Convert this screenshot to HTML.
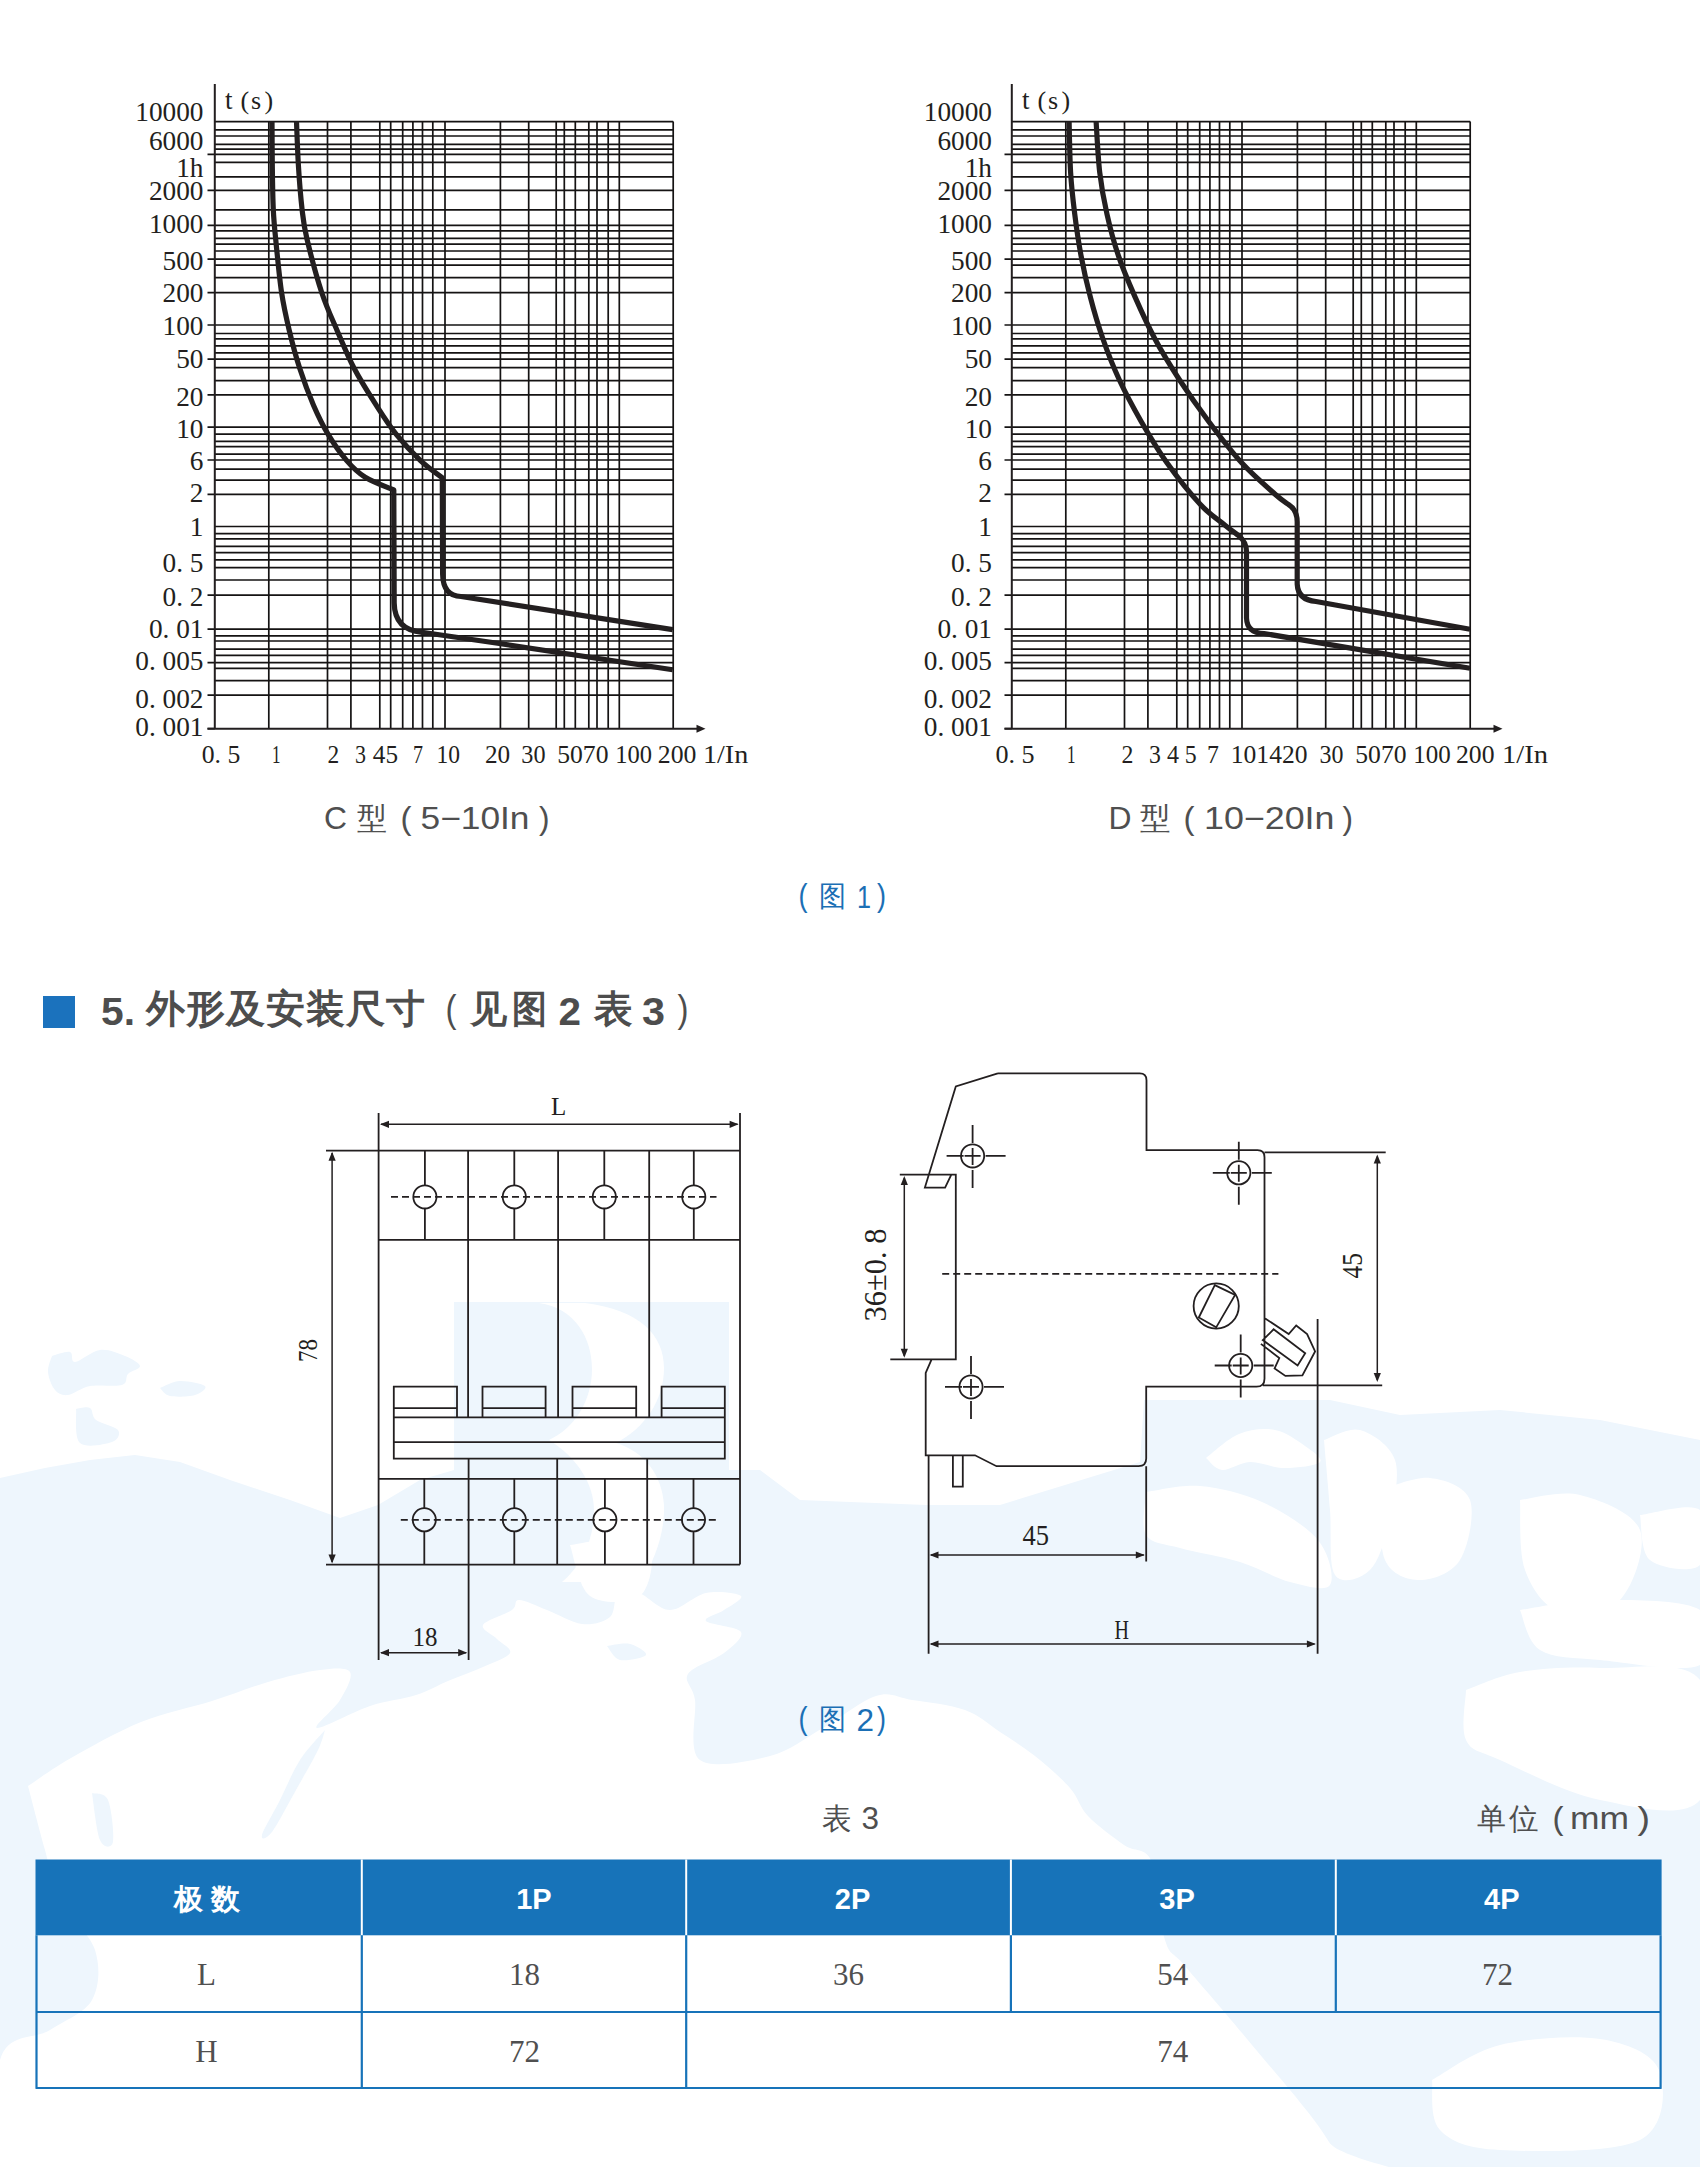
<!DOCTYPE html><html><head><meta charset="utf-8"><title>page</title><style>html,body{margin:0;padding:0;background:#fff;width:1700px;height:2167px;overflow:hidden;}svg{display:block;font-family:"Liberation Sans",sans-serif;}</style></head><body>
<svg width="1700" height="2167" viewBox="0 0 1700 2167">
<rect width="1700" height="2167" fill="#ffffff"/>
<path d="M0 1478 L45 1468 L90 1460 L135 1455 L180 1462 L230 1480 L290 1500 L340 1518 L378 1505 L420 1480 L454 1470 L760 1470 L800 1500 L926 1505 L1000 1505 L1140 1462 L1144 1400 L1330 1400 L1400 1415 L1500 1410 L1600 1420 L1700 1440 L1700 2167 L0 2167Z" fill="#eef6fd"/>
<path d="M454 1302 L729 1302 L729 1590 L454 1590Z" fill="#eef6fd"/>
<path d="M52 1356 C55 1355.3 66.2 1351 70 1352 C73.8 1353 70 1362.3 75 1362 C80 1361.7 91.7 1351 100 1350 C108.3 1349 118.3 1353.3 125 1356 C131.7 1358.7 139.5 1363 140 1366 C140.5 1369 131 1370.8 128 1374 C125 1377.2 128.3 1383 122 1385 C115.7 1387 99 1384.3 90 1386 C81 1387.7 73.8 1394.3 68 1395 C62.2 1395.7 58.3 1393.8 55 1390 C51.7 1386.2 48.5 1377.7 48 1372 C47.5 1366.3 51.3 1358.7 52 1356Z" fill="#eef6fd"/>
<path d="M160 1388 C163.3 1386.8 172.5 1381.3 180 1381 C187.5 1380.7 202.5 1383.7 205 1386 C207.5 1388.3 200.8 1393.3 195 1395 C189.2 1396.7 175.8 1397.2 170 1396 C164.2 1394.8 161.7 1389.3 160 1388Z" fill="#eef6fd"/>
<path d="M76 1409 C78.3 1408.8 86.7 1406.2 90 1408 C93.3 1409.8 91.3 1416.3 96 1420 C100.7 1423.7 115.3 1426.3 118 1430 C120.7 1433.7 118.3 1439.8 112 1442 C105.7 1444.2 86 1448.5 80 1443 C74 1437.5 76.7 1414.7 76 1409Z" fill="#eef6fd"/>
<path d="M28 1786 C35.2 1781.3 52.2 1768.7 71 1758 C89.8 1747.3 117.5 1731.5 141 1722 C164.5 1712.5 190.8 1707.7 212 1701 C233.2 1694.3 250 1687.2 268 1682 C286 1676.8 306.3 1671.7 320 1670 C333.7 1668.3 346.7 1667 350 1672 C353.3 1677 345.5 1690.7 340 1700 C334.5 1709.3 312 1727 317 1728 C322 1729 353.5 1711.5 370 1706 C386.5 1700.5 403 1699.2 416 1695 C429 1690.8 436.8 1685.7 448 1681 C459.2 1676.3 472.7 1671.7 483 1667 C493.3 1662.3 507.7 1657.7 510 1653 C512.3 1648.3 501.5 1643.7 497 1639 C492.5 1634.3 480.5 1629.8 483 1625 C485.5 1620.2 506 1614.2 512 1610 C518 1605.8 513.2 1600 519 1600 C524.8 1600 536.5 1606 547 1610 C557.5 1614 571.5 1622.8 582 1624 C592.5 1625.2 604 1622.2 610 1617 C616 1611.8 613.2 1597 618 1593 C622.8 1589 630.3 1590.2 639 1593 C647.7 1595.8 658.8 1610 670 1610 C681.2 1610 694.2 1595.3 706 1593 C717.8 1590.7 738 1593.2 741 1596 C744 1598.8 729.8 1605.8 724 1610 C718.2 1614.2 703.2 1617.3 706 1621 C708.8 1624.7 738 1626.7 741 1632 C744 1637.3 732.8 1646 724 1653 C715.2 1660 692.8 1666.2 688 1674 C683.2 1681.8 693 1685.7 695 1700 C697 1714.3 687.5 1750.7 700 1760 C712.5 1769.3 749.5 1761.3 770 1756 C790.5 1750.7 805.3 1738 823 1728 C840.7 1718 861.2 1700.7 876 1696 C890.8 1691.3 897.2 1697.7 912 1700 C926.8 1702.3 950.3 1704.7 965 1710 C979.7 1715.3 988.3 1724.3 1000 1732 C1011.7 1739.7 1023.3 1746.7 1035 1756 C1046.7 1765.3 1061.2 1778 1070 1788 C1078.8 1798 1079 1806.5 1088 1816 C1097 1825.5 1113.3 1837.3 1124 1845 C1134.7 1852.7 1145.2 1846.2 1152 1862 C1158.8 1877.8 1159.5 1922.7 1165 1940 C1170.5 1957.3 1171.3 1949.5 1185 1966 C1198.7 1982.5 1223 2009.7 1247 2039 C1271 2068.3 1313.5 2115.2 1329 2142 C1344.5 2168.8 1561.5 2190.3 1340 2200 C1118.5 2209.7 223.3 2223.3 0 2200 C-223.3 2176.7 -8.3 2088.3 0 2060 C8.3 2031.7 34.7 2040 50 2030 C65.3 2020 84.5 2013.3 92 2000 C99.5 1986.7 100.3 1966.7 95 1950 C89.7 1933.3 68.3 1916.7 60 1900 C51.7 1883.3 50.3 1869 45 1850 C39.7 1831 30.8 1796.7 28 1786Z" fill="#ffffff"/>
<path d="M570 1545 C576.7 1544.2 596.7 1539.2 610 1540 C623.3 1540.8 645 1540.7 650 1550 C655 1559.3 650 1588.3 640 1596 C630 1603.7 601.7 1604.5 590 1596 C578.3 1587.5 573.3 1553.5 570 1545Z" fill="#ffffff"/>
<path d="M325 1730 C320.8 1735 307.5 1748.3 300 1760 C292.5 1771.7 286.3 1787.5 280 1800 C273.7 1812.5 263.3 1829.7 262 1835 C260.7 1840.3 266.3 1839.5 272 1832 C277.7 1824.5 288.3 1803.7 296 1790 C303.7 1776.3 313.2 1760 318 1750 C322.8 1740 323.8 1733.3 325 1730Z" fill="#eef6fd"/>
<path d="M92 1793 C94.7 1794.2 104.5 1791.8 108 1800 C111.5 1808.2 114.3 1835.3 113 1842 C111.7 1848.7 103.5 1848.2 100 1840 C96.5 1831.8 93.3 1800.8 92 1793Z" fill="#eef6fd"/>
<path d="M607 1646 C610.8 1645.7 623.5 1642.5 630 1644 C636.5 1645.5 647.7 1652.3 646 1655 C644.3 1657.7 626.5 1661.5 620 1660 C613.5 1658.5 609.2 1648.3 607 1646Z" fill="#eef6fd"/>
<path d="M1146 1492 C1155 1491 1180.7 1484.3 1200 1486 C1219.3 1487.7 1242.3 1493 1262 1502 C1281.7 1511 1306.7 1526.2 1318 1540 C1329.3 1553.8 1334.7 1578 1330 1585 C1325.3 1592 1305 1585.8 1290 1582 C1275 1578.2 1258.3 1567.7 1240 1562 C1221.7 1556.3 1195.7 1552.5 1180 1548 C1164.3 1543.5 1151.7 1544.3 1146 1535 C1140.3 1525.7 1146 1499.2 1146 1492Z" fill="#ffffff"/>
<path d="M1206 1458 C1211.5 1454 1227.5 1438.7 1239 1434 C1250.5 1429.3 1264 1428 1275 1430 C1286 1432 1297.5 1440.7 1305 1446 C1312.5 1451.3 1323.3 1458.3 1320 1462 C1316.7 1465.7 1296.7 1468 1285 1468 C1273.3 1468 1260.5 1461.7 1250 1462 C1239.5 1462.3 1229.3 1470.7 1222 1470 C1214.7 1469.3 1208.7 1460 1206 1458Z" fill="#ffffff"/>
<path d="M1324 1440 C1330 1438.3 1348.2 1426.7 1360 1430 C1371.8 1433.3 1390 1445 1395 1460 C1400 1475 1394.2 1501.7 1390 1520 C1385.8 1538.3 1379.2 1560.8 1370 1570 C1360.8 1579.2 1341.7 1585 1335 1575 C1328.3 1565 1331.8 1532.5 1330 1510 C1328.2 1487.5 1325 1451.7 1324 1440Z" fill="#ffffff"/>
<path d="M1380 1490 C1388.3 1488 1415 1476.3 1430 1478 C1445 1479.7 1465 1486.3 1470 1500 C1475 1513.7 1468.3 1546.7 1460 1560 C1451.7 1573.3 1432.5 1580 1420 1580 C1407.5 1580 1391.7 1575 1385 1560 C1378.3 1545 1380.8 1501.7 1380 1490Z" fill="#ffffff"/>
<path d="M1520 1500 C1530 1499.2 1560 1490 1580 1495 C1600 1500 1633.3 1512.5 1640 1530 C1646.7 1547.5 1633.3 1586.3 1620 1600 C1606.7 1613.7 1575.8 1617 1560 1612 C1544.2 1607 1531.7 1588.7 1525 1570 C1518.3 1551.3 1520.8 1511.7 1520 1500Z" fill="#ffffff"/>
<path d="M1640 1515 C1650 1514.2 1690 1501.7 1700 1510 C1710 1518.3 1708.3 1556.7 1700 1565 C1691.7 1573.3 1660 1568.3 1650 1560 C1640 1551.7 1641.7 1522.5 1640 1515Z" fill="#ffffff"/>
<path d="M1520 1610 C1533.3 1608.3 1570 1600 1600 1600 C1630 1600 1683.3 1599.2 1700 1610 C1716.7 1620.8 1716.7 1656.7 1700 1665 C1683.3 1673.3 1626.7 1662.5 1600 1660 C1573.3 1657.5 1553.3 1658.3 1540 1650 C1526.7 1641.7 1523.3 1616.7 1520 1610Z" fill="#ffffff"/>
<path d="M1466 1690 C1475 1687 1497.7 1675.7 1520 1672 C1542.3 1668.3 1570 1666.7 1600 1668 C1630 1669.3 1683.3 1658 1700 1680 C1716.7 1702 1716.7 1780 1700 1800 C1683.3 1820 1633.3 1806.7 1600 1800 C1566.7 1793.3 1522.3 1770 1500 1760 C1477.7 1750 1471.7 1751.7 1466 1740 C1460.3 1728.3 1466 1698.3 1466 1690Z" fill="#ffffff"/>
<path d="M1432 2080 C1443.3 2074.2 1472 2051.8 1500 2045 C1528 2038.2 1573.5 2034.8 1600 2039 C1626.5 2043.2 1652.3 2053.2 1659 2070 C1665.7 2086.8 1666.5 2126.7 1640 2140 C1613.5 2153.3 1533.3 2151.7 1500 2150 C1466.7 2148.3 1451.3 2141.7 1440 2130 C1428.7 2118.3 1433.3 2088.3 1432 2080Z" fill="#ffffff"/>
<path d="M539 1303 C575 1308 592 1338 592 1369 C592 1400 575 1428 549 1440 C578 1458 594 1485 594 1510 C594 1540 582 1565 562 1582 L640 1582 C656 1560 665 1530 664 1505 C662 1475 645 1452 616 1443 C645 1428 664 1400 664 1368 C664 1335 640 1310 585 1303 Z" fill="#ffffff"/>
<g transform="translate(0,0)">
<path d="M214.8 121.6H673.2M214.8 129.9H673.2M214.8 136H673.2M214.8 144.4H673.2M214.8 149.1H673.2M214.8 154.4H673.2M214.8 162.3H673.2M214.8 176.9H673.2M214.8 190.4H673.2M214.8 209.8H673.2M214.8 225.3H673.2M214.8 230.9H673.2M214.8 238.4H673.2M214.8 244.2H673.2M214.8 251H673.2M214.8 259.2H673.2M214.8 265.1H673.2M214.8 277.7H673.2M214.8 292.7H673.2M214.8 325H673.2M214.8 333.5H673.2M214.8 338.8H673.2M214.8 345.9H673.2M214.8 352.9H673.2M214.8 359.2H673.2M214.8 367.7H673.2M214.8 380.7H673.2M214.8 394.8H673.2M214.8 427.1H673.2M214.8 434.2H673.2M214.8 441.3H673.2M214.8 446.6H673.2M214.8 454.1H673.2M214.8 460H673.2M214.8 469.2H673.2M214.8 480.1H673.2M214.8 494.4H673.2M214.8 526.5H673.2M214.8 533.7H673.2M214.8 538.8H673.2M214.8 546.3H673.2M214.8 552.6H673.2M214.8 559.9H673.2M214.8 567.7H673.2M214.8 580H673.2M214.8 595.1H673.2M214.8 629.2H673.2M214.8 635.8H673.2M214.8 641H673.2M214.8 649.1H673.2M214.8 655.4H673.2M214.8 662.6H673.2M214.8 668.4H673.2M214.8 680.6H673.2M214.8 695.1H673.2M207.5 154.4H214.8M207.5 190.4H214.8M207.5 225.3H214.8M207.5 259.2H214.8M207.5 292.7H214.8M207.5 325H214.8M207.5 359.2H214.8M207.5 394.8H214.8M207.5 427.1H214.8M207.5 460H214.8M207.5 494.4H214.8M207.5 595.1H214.8M207.5 629.2H214.8M207.5 662.6H214.8M207.5 695.1H214.8M207.5 728.7H214.8M268.8 121.6V728.7M327.5 121.6V728.7M350.9 121.6V728.7M379.8 121.6V728.7M390.7 121.6V728.7M402.7 121.6V728.7M412.9 121.6V728.7M422.5 121.6V728.7M432.8 121.6V728.7M445 121.6V728.7M500.4 121.6V728.7M528.7 121.6V728.7M556.2 121.6V728.7M564.3 121.6V728.7M575.3 121.6V728.7M588.8 121.6V728.7M597 121.6V728.7M608.2 121.6V728.7M619.3 121.6V728.7M673.2 121.6V728.7" stroke="#151313" stroke-width="1.7" fill="none"/>
<path d="M214.8 84V729.7 M207.5 728.7H698" stroke="#231f20" stroke-width="2" fill="none"/>
<path d="M705.5 728.7 L696.5 724.7 L696.5 732.7 Z" fill="#231f20"/>
<text x="203.5" y="121.3" font-family="'Liberation Serif', serif" font-size="27.3" fill="#231f20" text-anchor="end" font-weight="normal" >10000</text>
<text x="203.5" y="149.5" font-family="'Liberation Serif', serif" font-size="27.3" fill="#231f20" text-anchor="end" font-weight="normal" >6000</text>
<text x="203.5" y="177" font-family="'Liberation Serif', serif" font-size="27.3" fill="#231f20" text-anchor="end" font-weight="normal" >1h</text>
<text x="203.5" y="200.2" font-family="'Liberation Serif', serif" font-size="27.3" fill="#231f20" text-anchor="end" font-weight="normal" >2000</text>
<text x="203.5" y="232.6" font-family="'Liberation Serif', serif" font-size="27.3" fill="#231f20" text-anchor="end" font-weight="normal" >1000</text>
<text x="203.5" y="270" font-family="'Liberation Serif', serif" font-size="27.3" fill="#231f20" text-anchor="end" font-weight="normal" >500</text>
<text x="203.5" y="302.4" font-family="'Liberation Serif', serif" font-size="27.3" fill="#231f20" text-anchor="end" font-weight="normal" >200</text>
<text x="203.5" y="335.4" font-family="'Liberation Serif', serif" font-size="27.3" fill="#231f20" text-anchor="end" font-weight="normal" >100</text>
<text x="203.5" y="367.7" font-family="'Liberation Serif', serif" font-size="27.3" fill="#231f20" text-anchor="end" font-weight="normal" >50</text>
<text x="203.5" y="405.5" font-family="'Liberation Serif', serif" font-size="27.3" fill="#231f20" text-anchor="end" font-weight="normal" >20</text>
<text x="203.5" y="438" font-family="'Liberation Serif', serif" font-size="27.3" fill="#231f20" text-anchor="end" font-weight="normal" >10</text>
<text x="203.5" y="470.4" font-family="'Liberation Serif', serif" font-size="27.3" fill="#231f20" text-anchor="end" font-weight="normal" >6</text>
<text x="203.5" y="502.4" font-family="'Liberation Serif', serif" font-size="27.3" fill="#231f20" text-anchor="end" font-weight="normal" >2</text>
<text x="203.5" y="535.7" font-family="'Liberation Serif', serif" font-size="27.3" fill="#231f20" text-anchor="end" font-weight="normal" >1</text>
<text x="203.5" y="572" font-family="'Liberation Serif', serif" font-size="27.3" fill="#231f20" text-anchor="end" font-weight="normal" >0. 5</text>
<text x="203.5" y="605.5" font-family="'Liberation Serif', serif" font-size="27.3" fill="#231f20" text-anchor="end" font-weight="normal" >0. 2</text>
<text x="203.5" y="638" font-family="'Liberation Serif', serif" font-size="27.3" fill="#231f20" text-anchor="end" font-weight="normal" >0. 01</text>
<text x="203.5" y="670.4" font-family="'Liberation Serif', serif" font-size="27.3" fill="#231f20" text-anchor="end" font-weight="normal" >0. 005</text>
<text x="203.5" y="708" font-family="'Liberation Serif', serif" font-size="27.3" fill="#231f20" text-anchor="end" font-weight="normal" >0. 002</text>
<text x="203.5" y="735.6" font-family="'Liberation Serif', serif" font-size="27.3" fill="#231f20" text-anchor="end" font-weight="normal" >0. 001</text>
<text x="225" y="109" font-family="'Liberation Serif', serif" font-size="27" fill="#231f20" text-anchor="start" font-weight="normal" >t</text>
<text x="240.5" y="109" font-family="'Liberation Serif', serif" font-size="26" fill="#231f20" text-anchor="start" font-weight="normal" >(</text>
<text x="251" y="109" font-family="'Liberation Serif', serif" font-size="26" fill="#231f20" text-anchor="start" font-weight="normal" >s</text>
<text x="264.5" y="109" font-family="'Liberation Serif', serif" font-size="26" fill="#231f20" text-anchor="start" font-weight="normal" >)</text>
<text x="201.7" y="762.5" font-family="'Liberation Serif', serif" font-size="25.5" fill="#231f20" text-anchor="start" font-weight="normal" textLength="38.6" lengthAdjust="spacingAndGlyphs" >0. 5</text>
<text x="272" y="762.5" font-family="'Liberation Serif', serif" font-size="25.5" fill="#231f20" text-anchor="start" font-weight="normal" textLength="8.5" lengthAdjust="spacingAndGlyphs" >1</text>
<text x="327.5" y="762.5" font-family="'Liberation Serif', serif" font-size="25.5" fill="#231f20" text-anchor="start" font-weight="normal" textLength="11.7" lengthAdjust="spacingAndGlyphs" >2</text>
<text x="355" y="762.5" font-family="'Liberation Serif', serif" font-size="25.5" fill="#231f20" text-anchor="start" font-weight="normal" textLength="11" lengthAdjust="spacingAndGlyphs" >3</text>
<text x="372.8" y="762.5" font-family="'Liberation Serif', serif" font-size="25.5" fill="#231f20" text-anchor="start" font-weight="normal" textLength="25.2" lengthAdjust="spacingAndGlyphs" >45</text>
<text x="413" y="762.5" font-family="'Liberation Serif', serif" font-size="25.5" fill="#231f20" text-anchor="start" font-weight="normal" textLength="10" lengthAdjust="spacingAndGlyphs" >7</text>
<text x="436.5" y="762.5" font-family="'Liberation Serif', serif" font-size="25.5" fill="#231f20" text-anchor="start" font-weight="normal" textLength="23.5" lengthAdjust="spacingAndGlyphs" >10</text>
<text x="485" y="762.5" font-family="'Liberation Serif', serif" font-size="25.5" fill="#231f20" text-anchor="start" font-weight="normal" textLength="25.2" lengthAdjust="spacingAndGlyphs" >20</text>
<text x="521.3" y="762.5" font-family="'Liberation Serif', serif" font-size="25.5" fill="#231f20" text-anchor="start" font-weight="normal" textLength="24.2" lengthAdjust="spacingAndGlyphs" >30</text>
<text x="557.2" y="762.5" font-family="'Liberation Serif', serif" font-size="25.5" fill="#231f20" text-anchor="start" font-weight="normal" textLength="51.3" lengthAdjust="spacingAndGlyphs" >5070</text>
<text x="615.2" y="762.5" font-family="'Liberation Serif', serif" font-size="25.5" fill="#231f20" text-anchor="start" font-weight="normal" textLength="36.8" lengthAdjust="spacingAndGlyphs" >100</text>
<text x="657.8" y="762.5" font-family="'Liberation Serif', serif" font-size="25.5" fill="#231f20" text-anchor="start" font-weight="normal" textLength="38.6" lengthAdjust="spacingAndGlyphs" >200</text>
<text x="703" y="762.5" font-family="'Liberation Serif', serif" font-size="25.5" fill="#231f20" text-anchor="start" font-weight="normal" textLength="45.3" lengthAdjust="spacingAndGlyphs" >1/In</text>
<path d="M272 121.4 C272.1 128.7 272.1 150.7 272.3 165.4 C272.5 180.1 272.7 197.3 273.3 209.6 C273.9 221.9 274.3 225.3 275.7 239.2 C277.1 253 279.3 277.3 281.6 292.7 C283.9 308.1 286.5 318.8 289.5 331.4 C292.5 344 295.7 356 299.7 368.3 C303.7 380.6 308.7 394.1 313.5 405.2 C318.3 416.3 322.8 425.5 328.3 434.7 C333.8 443.9 340.6 453.5 346.7 460.6 C352.8 467.7 357.3 472.3 365.2 477.2 C373.1 482.1 389 487.9 393.8 490 L394.2 603 Q394.6 630 422 632.3 L497.6 643.2 L672.7 669.7" stroke="#231f20" stroke-width="5.2" fill="none" stroke-linejoin="round"/>
<path d="M296.5 121.4 C296.8 128.7 297.5 150.7 298.4 165.4 C299.3 180.1 300.7 197.3 302.1 209.6 C303.5 221.9 303.7 225.3 307 239.2 C310.3 253 316.7 277.3 321.8 292.7 C326.9 308.1 332.1 318.8 337.5 331.4 C342.9 344 347.7 356 354.1 368.3 C360.6 380.6 369.1 394.1 376.2 405.2 C383.3 416.3 389.1 425.5 396.5 434.7 C403.9 443.9 412.9 453.4 420.5 460.6 C428.1 467.8 438.7 474.9 442.3 477.8 L442.6 574 Q443 596 461 596.5 L672.7 629.6" stroke="#231f20" stroke-width="5.2" fill="none" stroke-linejoin="round"/>
</g>
<text x="324" y="829" font-family="'Liberation Sans', sans-serif" font-size="31" fill="#4f4f4f" text-anchor="start" font-weight="normal" textLength="23" lengthAdjust="spacingAndGlyphs" >C</text>
<text x="357" y="829" font-family="'Liberation Sans', sans-serif" font-size="31" fill="#4f4f4f" text-anchor="start" font-weight="normal" textLength="30" lengthAdjust="spacingAndGlyphs" >型</text>
<text x="400.5" y="829" font-family="'Liberation Sans', sans-serif" font-size="31" fill="#4f4f4f" text-anchor="start" font-weight="normal" textLength="11" lengthAdjust="spacingAndGlyphs" >(</text>
<text x="420.5" y="829" font-family="'Liberation Sans', sans-serif" font-size="31" fill="#4f4f4f" text-anchor="start" font-weight="normal" textLength="109" lengthAdjust="spacingAndGlyphs" >5−10In</text>
<text x="539" y="829" font-family="'Liberation Sans', sans-serif" font-size="31" fill="#4f4f4f" text-anchor="start" font-weight="normal" textLength="10.5" lengthAdjust="spacingAndGlyphs" >)</text>
<g transform="translate(797,0)">
<path d="M214.8 121.6H673.2M214.8 129.9H673.2M214.8 136H673.2M214.8 144.4H673.2M214.8 149.1H673.2M214.8 154.4H673.2M214.8 162.3H673.2M214.8 176.9H673.2M214.8 190.4H673.2M214.8 209.8H673.2M214.8 225.3H673.2M214.8 230.9H673.2M214.8 238.4H673.2M214.8 244.2H673.2M214.8 251H673.2M214.8 259.2H673.2M214.8 265.1H673.2M214.8 277.7H673.2M214.8 292.7H673.2M214.8 325H673.2M214.8 333.5H673.2M214.8 338.8H673.2M214.8 345.9H673.2M214.8 352.9H673.2M214.8 359.2H673.2M214.8 367.7H673.2M214.8 380.7H673.2M214.8 394.8H673.2M214.8 427.1H673.2M214.8 434.2H673.2M214.8 441.3H673.2M214.8 446.6H673.2M214.8 454.1H673.2M214.8 460H673.2M214.8 469.2H673.2M214.8 480.1H673.2M214.8 494.4H673.2M214.8 526.5H673.2M214.8 533.7H673.2M214.8 538.8H673.2M214.8 546.3H673.2M214.8 552.6H673.2M214.8 559.9H673.2M214.8 567.7H673.2M214.8 580H673.2M214.8 595.1H673.2M214.8 629.2H673.2M214.8 635.8H673.2M214.8 641H673.2M214.8 649.1H673.2M214.8 655.4H673.2M214.8 662.6H673.2M214.8 668.4H673.2M214.8 680.6H673.2M214.8 695.1H673.2M207.5 154.4H214.8M207.5 190.4H214.8M207.5 225.3H214.8M207.5 259.2H214.8M207.5 292.7H214.8M207.5 325H214.8M207.5 359.2H214.8M207.5 394.8H214.8M207.5 427.1H214.8M207.5 460H214.8M207.5 494.4H214.8M207.5 595.1H214.8M207.5 629.2H214.8M207.5 662.6H214.8M207.5 695.1H214.8M207.5 728.7H214.8M268.8 121.6V728.7M327.5 121.6V728.7M350.9 121.6V728.7M379.8 121.6V728.7M390.7 121.6V728.7M402.7 121.6V728.7M412.9 121.6V728.7M422.5 121.6V728.7M432.8 121.6V728.7M445 121.6V728.7M500.4 121.6V728.7M528.7 121.6V728.7M556.2 121.6V728.7M564.3 121.6V728.7M575.3 121.6V728.7M588.8 121.6V728.7M597 121.6V728.7M608.2 121.6V728.7M619.3 121.6V728.7M673.2 121.6V728.7" stroke="#151313" stroke-width="1.7" fill="none"/>
<path d="M214.8 84V729.7 M207.5 728.7H698" stroke="#231f20" stroke-width="2" fill="none"/>
<path d="M705.5 728.7 L696.5 724.7 L696.5 732.7 Z" fill="#231f20"/>
<text x="195" y="121.3" font-family="'Liberation Serif', serif" font-size="27.3" fill="#231f20" text-anchor="end" font-weight="normal" >10000</text>
<text x="195" y="149.5" font-family="'Liberation Serif', serif" font-size="27.3" fill="#231f20" text-anchor="end" font-weight="normal" >6000</text>
<text x="195" y="177" font-family="'Liberation Serif', serif" font-size="27.3" fill="#231f20" text-anchor="end" font-weight="normal" >1h</text>
<text x="195" y="200.2" font-family="'Liberation Serif', serif" font-size="27.3" fill="#231f20" text-anchor="end" font-weight="normal" >2000</text>
<text x="195" y="232.6" font-family="'Liberation Serif', serif" font-size="27.3" fill="#231f20" text-anchor="end" font-weight="normal" >1000</text>
<text x="195" y="270" font-family="'Liberation Serif', serif" font-size="27.3" fill="#231f20" text-anchor="end" font-weight="normal" >500</text>
<text x="195" y="302.4" font-family="'Liberation Serif', serif" font-size="27.3" fill="#231f20" text-anchor="end" font-weight="normal" >200</text>
<text x="195" y="335.4" font-family="'Liberation Serif', serif" font-size="27.3" fill="#231f20" text-anchor="end" font-weight="normal" >100</text>
<text x="195" y="367.7" font-family="'Liberation Serif', serif" font-size="27.3" fill="#231f20" text-anchor="end" font-weight="normal" >50</text>
<text x="195" y="405.5" font-family="'Liberation Serif', serif" font-size="27.3" fill="#231f20" text-anchor="end" font-weight="normal" >20</text>
<text x="195" y="438" font-family="'Liberation Serif', serif" font-size="27.3" fill="#231f20" text-anchor="end" font-weight="normal" >10</text>
<text x="195" y="470.4" font-family="'Liberation Serif', serif" font-size="27.3" fill="#231f20" text-anchor="end" font-weight="normal" >6</text>
<text x="195" y="502.4" font-family="'Liberation Serif', serif" font-size="27.3" fill="#231f20" text-anchor="end" font-weight="normal" >2</text>
<text x="195" y="535.7" font-family="'Liberation Serif', serif" font-size="27.3" fill="#231f20" text-anchor="end" font-weight="normal" >1</text>
<text x="195" y="572" font-family="'Liberation Serif', serif" font-size="27.3" fill="#231f20" text-anchor="end" font-weight="normal" >0. 5</text>
<text x="195" y="605.5" font-family="'Liberation Serif', serif" font-size="27.3" fill="#231f20" text-anchor="end" font-weight="normal" >0. 2</text>
<text x="195" y="638" font-family="'Liberation Serif', serif" font-size="27.3" fill="#231f20" text-anchor="end" font-weight="normal" >0. 01</text>
<text x="195" y="670.4" font-family="'Liberation Serif', serif" font-size="27.3" fill="#231f20" text-anchor="end" font-weight="normal" >0. 005</text>
<text x="195" y="708" font-family="'Liberation Serif', serif" font-size="27.3" fill="#231f20" text-anchor="end" font-weight="normal" >0. 002</text>
<text x="195" y="735.6" font-family="'Liberation Serif', serif" font-size="27.3" fill="#231f20" text-anchor="end" font-weight="normal" >0. 001</text>
<text x="225" y="109" font-family="'Liberation Serif', serif" font-size="27" fill="#231f20" text-anchor="start" font-weight="normal" >t</text>
<text x="240.5" y="109" font-family="'Liberation Serif', serif" font-size="26" fill="#231f20" text-anchor="start" font-weight="normal" >(</text>
<text x="251" y="109" font-family="'Liberation Serif', serif" font-size="26" fill="#231f20" text-anchor="start" font-weight="normal" >s</text>
<text x="264.5" y="109" font-family="'Liberation Serif', serif" font-size="26" fill="#231f20" text-anchor="start" font-weight="normal" >)</text>
<text x="198.4" y="762.5" font-family="'Liberation Serif', serif" font-size="25.5" fill="#231f20" text-anchor="start" font-weight="normal" textLength="39.2" lengthAdjust="spacingAndGlyphs" >0. 5</text>
<text x="270" y="762.5" font-family="'Liberation Serif', serif" font-size="25.5" fill="#231f20" text-anchor="start" font-weight="normal" textLength="8.5" lengthAdjust="spacingAndGlyphs" >1</text>
<text x="324.6" y="762.5" font-family="'Liberation Serif', serif" font-size="25.5" fill="#231f20" text-anchor="start" font-weight="normal" textLength="11.9" lengthAdjust="spacingAndGlyphs" >2</text>
<text x="351.9" y="762.5" font-family="'Liberation Serif', serif" font-size="25.5" fill="#231f20" text-anchor="start" font-weight="normal" textLength="11.9" lengthAdjust="spacingAndGlyphs" >3</text>
<text x="370" y="762.5" font-family="'Liberation Serif', serif" font-size="25.5" fill="#231f20" text-anchor="start" font-weight="normal" textLength="12" lengthAdjust="spacingAndGlyphs" >4</text>
<text x="387.7" y="762.5" font-family="'Liberation Serif', serif" font-size="25.5" fill="#231f20" text-anchor="start" font-weight="normal" textLength="11.9" lengthAdjust="spacingAndGlyphs" >5</text>
<text x="409.9" y="762.5" font-family="'Liberation Serif', serif" font-size="25.5" fill="#231f20" text-anchor="start" font-weight="normal" textLength="11.9" lengthAdjust="spacingAndGlyphs" >7</text>
<text x="433.8" y="762.5" font-family="'Liberation Serif', serif" font-size="25.5" fill="#231f20" text-anchor="start" font-weight="normal" textLength="76.7" lengthAdjust="spacingAndGlyphs" >101420</text>
<text x="522.5" y="762.5" font-family="'Liberation Serif', serif" font-size="25.5" fill="#231f20" text-anchor="start" font-weight="normal" textLength="23.9" lengthAdjust="spacingAndGlyphs" >30</text>
<text x="558.3" y="762.5" font-family="'Liberation Serif', serif" font-size="25.5" fill="#231f20" text-anchor="start" font-weight="normal" textLength="51.2" lengthAdjust="spacingAndGlyphs" >5070</text>
<text x="616.3" y="762.5" font-family="'Liberation Serif', serif" font-size="25.5" fill="#231f20" text-anchor="start" font-weight="normal" textLength="37.5" lengthAdjust="spacingAndGlyphs" >100</text>
<text x="659" y="762.5" font-family="'Liberation Serif', serif" font-size="25.5" fill="#231f20" text-anchor="start" font-weight="normal" textLength="38.5" lengthAdjust="spacingAndGlyphs" >200</text>
<text x="705" y="762.5" font-family="'Liberation Serif', serif" font-size="25.5" fill="#231f20" text-anchor="start" font-weight="normal" textLength="46" lengthAdjust="spacingAndGlyphs" >1/In</text>
<path d="M272.1 121.4 C272.3 129.9 272.7 156.9 273.6 172.3 C274.5 187.7 276 200 277.7 213.8 C279.4 227.7 281.4 241.6 284 255.4 C286.6 269.2 289.7 283 293.3 296.9 C296.9 310.8 300.9 324.6 305.8 338.5 C310.6 352.4 316 366.2 322.4 380 C328.8 393.8 336.3 407.6 344.2 421.5 C352.2 435.4 360.2 449.2 370.1 463.1 C380 477 393.7 494.2 403.4 504.6 C413.1 515 421.9 520.2 428.3 525.4 C434.6 530.5 439.3 533.8 441.5 535.5 Q449.5 542 449.5 552 L449.5 618 Q450 633 467 633.5 L673 668.2" stroke="#231f20" stroke-width="5.2" fill="none" stroke-linejoin="round"/>
<path d="M299.1 121.4 C299.7 129.9 300.9 156.9 302.7 172.3 C304.5 187.7 306.8 200 309.9 213.8 C313 227.7 316.6 241.6 321.3 255.4 C326 269.2 331.9 283 338 296.9 C344.1 310.8 350.3 324.6 357.7 338.5 C365.1 352.4 373.6 366.2 382.6 380 C391.6 393.8 401.3 407.6 411.7 421.5 C422.1 435.4 433.8 451 444.9 463.1 C456 475.2 470.3 487.3 478.1 494.2 C485.9 501.1 489.3 502.8 491.5 504.5 Q500.2 510 500.2 522 L500.2 584 Q501 600 519 601.5 L673 629.2" stroke="#231f20" stroke-width="5.2" fill="none" stroke-linejoin="round"/>
</g>
<text x="1108.5" y="829" font-family="'Liberation Sans', sans-serif" font-size="31" fill="#4f4f4f" text-anchor="start" font-weight="normal" textLength="23" lengthAdjust="spacingAndGlyphs" >D</text>
<text x="1139.5" y="829" font-family="'Liberation Sans', sans-serif" font-size="31" fill="#4f4f4f" text-anchor="start" font-weight="normal" textLength="30.5" lengthAdjust="spacingAndGlyphs" >型</text>
<text x="1183.5" y="829" font-family="'Liberation Sans', sans-serif" font-size="31" fill="#4f4f4f" text-anchor="start" font-weight="normal" textLength="11" lengthAdjust="spacingAndGlyphs" >(</text>
<text x="1204" y="829" font-family="'Liberation Sans', sans-serif" font-size="31" fill="#4f4f4f" text-anchor="start" font-weight="normal" textLength="130.5" lengthAdjust="spacingAndGlyphs" >10−20In</text>
<text x="1342.5" y="829" font-family="'Liberation Sans', sans-serif" font-size="31" fill="#4f4f4f" text-anchor="start" font-weight="normal" textLength="10.5" lengthAdjust="spacingAndGlyphs" >)</text>
<text x="798.5" y="906" font-family="'Liberation Sans', sans-serif" font-size="31" fill="#1b6fb5" text-anchor="start" font-weight="normal" textLength="9" lengthAdjust="spacingAndGlyphs" >(</text>
<text x="818.5" y="906" font-family="'Liberation Sans', sans-serif" font-size="29" fill="#1b6fb5" text-anchor="start" font-weight="normal" textLength="27" lengthAdjust="spacingAndGlyphs" >图</text>
<text x="857" y="907.8" font-family="'Liberation Sans', sans-serif" font-size="32" fill="#1b6fb5" text-anchor="start" font-weight="normal" textLength="14" lengthAdjust="spacingAndGlyphs" >1</text>
<text x="877" y="906" font-family="'Liberation Sans', sans-serif" font-size="31" fill="#1b6fb5" text-anchor="start" font-weight="normal" textLength="9" lengthAdjust="spacingAndGlyphs" >)</text>
<rect x="43" y="996" width="32" height="32" fill="#1b72bd"/>
<text x="101" y="1024.7" font-family="'Liberation Sans', sans-serif" font-size="38" fill="#4d4d4d" text-anchor="start" font-weight="bold" textLength="34" lengthAdjust="spacingAndGlyphs" >5.</text>
<text x="146" y="1022" font-family="'Liberation Sans', sans-serif" font-size="39" fill="#4d4d4d" text-anchor="start" font-weight="bold" textLength="39" lengthAdjust="spacingAndGlyphs" >外</text>
<text x="186" y="1022" font-family="'Liberation Sans', sans-serif" font-size="39" fill="#4d4d4d" text-anchor="start" font-weight="bold" textLength="39" lengthAdjust="spacingAndGlyphs" >形</text>
<text x="226" y="1022" font-family="'Liberation Sans', sans-serif" font-size="39" fill="#4d4d4d" text-anchor="start" font-weight="bold" textLength="39" lengthAdjust="spacingAndGlyphs" >及</text>
<text x="266" y="1022" font-family="'Liberation Sans', sans-serif" font-size="39" fill="#4d4d4d" text-anchor="start" font-weight="bold" textLength="39" lengthAdjust="spacingAndGlyphs" >安</text>
<text x="306" y="1022" font-family="'Liberation Sans', sans-serif" font-size="39" fill="#4d4d4d" text-anchor="start" font-weight="bold" textLength="39" lengthAdjust="spacingAndGlyphs" >装</text>
<text x="346" y="1022" font-family="'Liberation Sans', sans-serif" font-size="39" fill="#4d4d4d" text-anchor="start" font-weight="bold" textLength="39" lengthAdjust="spacingAndGlyphs" >尺</text>
<text x="386" y="1022" font-family="'Liberation Sans', sans-serif" font-size="39" fill="#4d4d4d" text-anchor="start" font-weight="bold" textLength="39" lengthAdjust="spacingAndGlyphs" >寸</text>
<text x="445.5" y="1022" font-family="'Liberation Sans', sans-serif" font-size="38" fill="#4d4d4d" text-anchor="start" font-weight="normal" textLength="11" lengthAdjust="spacingAndGlyphs" >(</text>
<text x="470" y="1022" font-family="'Liberation Sans', sans-serif" font-size="38" fill="#4d4d4d" text-anchor="start" font-weight="bold" textLength="37" lengthAdjust="spacingAndGlyphs" >见</text>
<text x="512" y="1022" font-family="'Liberation Sans', sans-serif" font-size="38" fill="#4d4d4d" text-anchor="start" font-weight="bold" textLength="35" lengthAdjust="spacingAndGlyphs" >图</text>
<text x="558.5" y="1024.5" font-family="'Liberation Sans', sans-serif" font-size="38" fill="#4d4d4d" text-anchor="start" font-weight="bold" textLength="22.5" lengthAdjust="spacingAndGlyphs" >2</text>
<text x="593.5" y="1022" font-family="'Liberation Sans', sans-serif" font-size="38" fill="#4d4d4d" text-anchor="start" font-weight="bold" textLength="38.5" lengthAdjust="spacingAndGlyphs" >表</text>
<text x="642" y="1024.5" font-family="'Liberation Sans', sans-serif" font-size="38" fill="#4d4d4d" text-anchor="start" font-weight="bold" textLength="23" lengthAdjust="spacingAndGlyphs" >3</text>
<text x="677.5" y="1022" font-family="'Liberation Sans', sans-serif" font-size="38" fill="#4d4d4d" text-anchor="start" font-weight="normal" textLength="11" lengthAdjust="spacingAndGlyphs" >)</text>
<path d="M326 1150.6H740M326 1564.6H740M378.6 1113V1660M740 1113V1564.6M378.6 1239.8H740M378.6 1478.8H740M468.1 1150.6V1417.3M558.1 1150.6V1417.3M649.2 1150.6V1417.3M468.6 1458.6V1564.6M557.2 1458.6V1564.6M647.2 1458.6V1564.6M468.6 1564.6V1660M424.9 1150.6V1185.3 M424.9 1208.5V1239.8M514.3 1150.6V1185.3 M514.3 1208.5V1239.8M604.3 1150.6V1185.3 M604.3 1208.5V1239.8M693.8 1150.6V1185.3 M693.8 1208.5V1239.8M424.3 1478.8V1508.2 M424.3 1531.4V1564.6M514.3 1478.8V1508.2 M514.3 1531.4V1564.6M604.9 1478.8V1508.2 M604.9 1531.4V1564.6M693.5 1478.8V1508.2 M693.5 1531.4V1564.6M393.8 1417.3V1386.6H457V1417.3 M393.8 1408.2H457M482.5 1417.3V1386.6H545.6V1417.3 M482.5 1408.2H545.6M572.5 1417.3V1386.6H636.2V1417.3 M572.5 1408.2H636.2M661.6 1417.3V1386.6H724.8V1417.3 M661.6 1408.2H724.8M393.8 1417.3H724.8V1458.6H393.8Z M393.8 1442.2H724.8" stroke="#231f20" stroke-width="1.8" fill="none" />
<circle cx="424.9" cy="1196.9" r="11.6" stroke="#231f20" stroke-width="1.8" fill="none"/>
<circle cx="514.3" cy="1196.9" r="11.6" stroke="#231f20" stroke-width="1.8" fill="none"/>
<circle cx="604.3" cy="1196.9" r="11.6" stroke="#231f20" stroke-width="1.8" fill="none"/>
<circle cx="693.8" cy="1196.9" r="11.6" stroke="#231f20" stroke-width="1.8" fill="none"/>
<circle cx="424.3" cy="1519.8" r="11.6" stroke="#231f20" stroke-width="1.8" fill="none"/>
<circle cx="514.3" cy="1519.8" r="11.6" stroke="#231f20" stroke-width="1.8" fill="none"/>
<circle cx="604.9" cy="1519.8" r="11.6" stroke="#231f20" stroke-width="1.8" fill="none"/>
<circle cx="693.5" cy="1519.8" r="11.6" stroke="#231f20" stroke-width="1.8" fill="none"/>
<path d="M391 1196.9H716.5" stroke="#231f20" stroke-width="1.8" fill="none" stroke-dasharray="7 4"/>
<path d="M400.8 1519.8H716.5" stroke="#231f20" stroke-width="1.8" fill="none" stroke-dasharray="7 4"/>
<path d="M381 1124.3H737.6" stroke="#231f20" stroke-width="1.5" fill="none" />
<path d="M380 1124.3 L389 1120.7 L389 1127.9 Z" fill="#231f20"/>
<path d="M738.6 1124.3 L729.6 1120.7 L729.6 1127.9 Z" fill="#231f20"/>
<path d="M332.1 1153V1562" stroke="#231f20" stroke-width="1.5" fill="none" />
<path d="M332.1 1151.8 L328.5 1160.8 L335.7 1160.8 Z" fill="#231f20"/>
<path d="M332.1 1563.4 L328.5 1554.4 L335.7 1554.4 Z" fill="#231f20"/>
<path d="M381 1652.7H466.2" stroke="#231f20" stroke-width="1.5" fill="none" />
<path d="M380 1652.7 L389 1649.1 L389 1656.3 Z" fill="#231f20"/>
<path d="M467.2 1652.7 L458.2 1649.1 L458.2 1656.3 Z" fill="#231f20"/>
<text x="558.6" y="1114.5" font-family="'Liberation Serif', serif" font-size="25" fill="#231f20" text-anchor="middle">L</text>
<text x="412.5" y="1646.3" font-family="'Liberation Serif', serif" font-size="27" fill="#231f20" textLength="25" lengthAdjust="spacingAndGlyphs">18</text>
<text transform="translate(317.2 1362) rotate(-90)" x="0" y="0" font-family="'Liberation Serif', serif" font-size="28" fill="#231f20" textLength="23" lengthAdjust="spacingAndGlyphs">78</text>
<path d="M997.8 1073.4H1139.7Q1146.5 1073.4 1146.5 1080.2V1150.2H1257.5Q1264.5 1150.2 1264.5 1157.2V1378.7Q1264.5 1386.7 1256.5 1386.7H1146.2V1458.6Q1146.2 1466.2 1138.6 1466.2H996.5L975 1455.3H925.7V1372.9L931.5 1359.6M997.8 1073.4L955.8 1086.4L924.9 1187.6H945.1L951.2 1174.9M899.8 1174.7H955.8V1359.4H890.3M952.9 1455.3V1486.6H962.8V1455.3M928.6 1455.3V1653.7M1146.2 1466.2V1561.5M1317.6 1319V1653.7M1264.5 1152.4H1385.7M1262.8 1385.3H1382.2M1214.8 1285.1L1235.1 1294.9L1216.2 1327.4L1198.8 1317.5ZM1265.2 1318.5L1288.7 1334L1296.2 1325.5L1307.1 1334L1315.1 1351.4L1302.4 1375.4L1285.4 1375.9L1274.6 1368.4L1279.3 1358L1260.9 1343.9M1273.6 1329.3L1305.2 1353.3L1297.6 1365.5L1262.8 1340.1Z" stroke="#231f20" stroke-width="1.8" fill="none" />
<circle cx="1216.2" cy="1306" r="22.6" stroke="#231f20" stroke-width="1.8" fill="none"/>
<circle cx="972.6" cy="1155.9" r="11.6" stroke="#231f20" stroke-width="1.8" fill="none"/>
<path d="M946.6 1155.9H963.6 M964.6 1155.9H980.6 M985.6 1155.9H1005.6" stroke="#231f20" stroke-width="1.8" fill="none" />
<path d="M972.6 1124.9V1142.9 M972.6 1147.9V1164.9 M972.6 1169.9V1187.9" stroke="#231f20" stroke-width="1.8" fill="none" />
<circle cx="1238.8" cy="1172.8" r="11.6" stroke="#231f20" stroke-width="1.8" fill="none"/>
<path d="M1212.8 1172.8H1229.8 M1230.8 1172.8H1246.8 M1251.8 1172.8H1271.8" stroke="#231f20" stroke-width="1.8" fill="none" />
<path d="M1238.8 1141.8V1159.8 M1238.8 1164.8V1181.8 M1238.8 1186.8V1204.8" stroke="#231f20" stroke-width="1.8" fill="none" />
<circle cx="1240.7" cy="1365.5" r="11.6" stroke="#231f20" stroke-width="1.8" fill="none"/>
<path d="M1214.7 1365.5H1231.7 M1232.7 1365.5H1248.7 M1253.7 1365.5H1273.7" stroke="#231f20" stroke-width="1.8" fill="none" />
<path d="M1240.7 1334.5V1352.5 M1240.7 1357.5V1374.5 M1240.7 1379.5V1397.5" stroke="#231f20" stroke-width="1.8" fill="none" />
<circle cx="971" cy="1386.9" r="11.6" stroke="#231f20" stroke-width="1.8" fill="none"/>
<path d="M945 1386.9H962 M963 1386.9H979 M984 1386.9H1004" stroke="#231f20" stroke-width="1.8" fill="none" />
<path d="M971 1355.9V1373.9 M971 1378.9V1395.9 M971 1400.9V1418.9" stroke="#231f20" stroke-width="1.8" fill="none" />
<path d="M942.2 1273.8H1278.4" stroke="#231f20" stroke-width="1.8" fill="none" stroke-dasharray="7 4"/>
<path d="M904.3 1178V1356" stroke="#231f20" stroke-width="1.5" fill="none" />
<path d="M904.3 1176.1 L900.7 1185.1 L907.9 1185.1 Z" fill="#231f20"/>
<path d="M904.3 1357.7 L900.7 1348.7 L907.9 1348.7 Z" fill="#231f20"/>
<path d="M1377.3 1156.5V1380" stroke="#231f20" stroke-width="1.5" fill="none" />
<path d="M1377.3 1154.5 L1373.7 1163.5 L1380.9 1163.5 Z" fill="#231f20"/>
<path d="M1377.3 1382 L1373.7 1373 L1380.9 1373 Z" fill="#231f20"/>
<path d="M931 1555H1143.8" stroke="#231f20" stroke-width="1.5" fill="none" />
<path d="M929.5 1555 L938.5 1551.4 L938.5 1558.6 Z" fill="#231f20"/>
<path d="M1144.8 1555 L1135.8 1551.4 L1135.8 1558.6 Z" fill="#231f20"/>
<path d="M931 1644H1314.5" stroke="#231f20" stroke-width="1.5" fill="none" />
<path d="M929.5 1644 L938.5 1640.4 L938.5 1647.6 Z" fill="#231f20"/>
<path d="M1315.9 1644 L1306.9 1640.4 L1306.9 1647.6 Z" fill="#231f20"/>
<text x="1022.5" y="1544.6" font-family="'Liberation Serif', serif" font-size="29" fill="#231f20" textLength="26.5" lengthAdjust="spacingAndGlyphs">45</text>
<text x="1114.5" y="1639" font-family="'Liberation Serif', serif" font-size="28" fill="#231f20" textLength="14.5" lengthAdjust="spacingAndGlyphs">H</text>
<text transform="translate(885.5 1321.5) rotate(-90)" font-family="'Liberation Serif', serif" font-size="31" fill="#231f20" textLength="93" lengthAdjust="spacingAndGlyphs">36±0. 8</text>
<text transform="translate(1362 1278.6) rotate(-90)" font-family="'Liberation Serif', serif" font-size="30" fill="#231f20" textLength="25.5" lengthAdjust="spacingAndGlyphs">45</text>
<text x="798.5" y="1729" font-family="'Liberation Sans', sans-serif" font-size="31" fill="#1b6fb5" text-anchor="start" font-weight="normal" textLength="9" lengthAdjust="spacingAndGlyphs" >(</text>
<text x="818.5" y="1729" font-family="'Liberation Sans', sans-serif" font-size="29" fill="#1b6fb5" text-anchor="start" font-weight="normal" textLength="27" lengthAdjust="spacingAndGlyphs" >图</text>
<text x="856.5" y="1730.8" font-family="'Liberation Sans', sans-serif" font-size="32" fill="#1b6fb5" text-anchor="start" font-weight="normal" textLength="17.5" lengthAdjust="spacingAndGlyphs" >2</text>
<text x="877" y="1729" font-family="'Liberation Sans', sans-serif" font-size="31" fill="#1b6fb5" text-anchor="start" font-weight="normal" textLength="9" lengthAdjust="spacingAndGlyphs" >)</text>
<text x="821.5" y="1829" font-family="'Liberation Sans', sans-serif" font-size="30" fill="#4f4f4f" text-anchor="start" font-weight="normal" textLength="29.5" lengthAdjust="spacingAndGlyphs" >表</text>
<text x="861.5" y="1828.8" font-family="'Liberation Sans', sans-serif" font-size="31" fill="#4f4f4f" text-anchor="start" font-weight="normal" textLength="17.5" lengthAdjust="spacingAndGlyphs" >3</text>
<text x="1477" y="1829" font-family="'Liberation Sans', sans-serif" font-size="30" fill="#4f4f4f" text-anchor="start" font-weight="normal" textLength="29" lengthAdjust="spacingAndGlyphs" >单</text>
<text x="1508.5" y="1829" font-family="'Liberation Sans', sans-serif" font-size="30" fill="#4f4f4f" text-anchor="start" font-weight="normal" textLength="29.5" lengthAdjust="spacingAndGlyphs" >位</text>
<text x="1552.5" y="1829" font-family="'Liberation Sans', sans-serif" font-size="31" fill="#4f4f4f" text-anchor="start" font-weight="normal" textLength="11" lengthAdjust="spacingAndGlyphs" >(</text>
<text x="1570" y="1828.8" font-family="'Liberation Sans', sans-serif" font-size="31" fill="#4f4f4f" text-anchor="start" font-weight="normal" textLength="59" lengthAdjust="spacingAndGlyphs" >mm</text>
<text x="1637.5" y="1829" font-family="'Liberation Sans', sans-serif" font-size="31" fill="#4f4f4f" text-anchor="start" font-weight="normal" textLength="12.5" lengthAdjust="spacingAndGlyphs" >)</text>
<rect x="35.5" y="1859.5" width="1626.1" height="75.8" fill="#1773b9"/>
<path d="M361.8 1859.5V1935.3M686.2 1859.5V1935.3M1010.9 1859.5V1935.3M1335.8 1859.5V1935.3" stroke="#ffffff" stroke-width="2" fill="none"/>
<path d="M36.5 1935.3V2088M1660.6 1935.3V2088M35.5 2012H1661.6M35.5 2088H1661.6M361.8 1935.3V2012M686.2 1935.3V2012M1010.9 1935.3V2012M1335.8 1935.3V2012M361.8 2012V2088M686.2 2012V2088" stroke="#1773b9" stroke-width="2.2" fill="none"/>
<text x="207.4" y="1909" font-family="'Liberation Sans', sans-serif" font-size="29" font-weight="bold" fill="#ffffff" text-anchor="middle">极 数</text>
<text x="533.9" y="1909" font-family="'Liberation Sans', sans-serif" font-size="29" font-weight="bold" fill="#ffffff" text-anchor="middle">1P</text>
<text x="852.5" y="1909" font-family="'Liberation Sans', sans-serif" font-size="29" font-weight="bold" fill="#ffffff" text-anchor="middle">2P</text>
<text x="1177" y="1909" font-family="'Liberation Sans', sans-serif" font-size="29" font-weight="bold" fill="#ffffff" text-anchor="middle">3P</text>
<text x="1501.8" y="1909" font-family="'Liberation Sans', sans-serif" font-size="29" font-weight="bold" fill="#ffffff" text-anchor="middle">4P</text>
<text x="206.5" y="1985" font-family="'Liberation Serif', serif" font-size="31" fill="#505050" text-anchor="middle">L</text>
<text x="524.5" y="1985" font-family="'Liberation Serif', serif" font-size="31" fill="#505050" text-anchor="middle">18</text>
<text x="848.5" y="1985" font-family="'Liberation Serif', serif" font-size="31" fill="#505050" text-anchor="middle">36</text>
<text x="1172.7" y="1985" font-family="'Liberation Serif', serif" font-size="31" fill="#505050" text-anchor="middle">54</text>
<text x="1497.5" y="1985" font-family="'Liberation Serif', serif" font-size="31" fill="#505050" text-anchor="middle">72</text>
<text x="206.5" y="2061.5" font-family="'Liberation Serif', serif" font-size="31" fill="#505050" text-anchor="middle">H</text>
<text x="524.5" y="2061.5" font-family="'Liberation Serif', serif" font-size="31" fill="#505050" text-anchor="middle">72</text>
<text x="1172.7" y="2061.5" font-family="'Liberation Serif', serif" font-size="31" fill="#505050" text-anchor="middle">74</text>
</svg></body></html>
